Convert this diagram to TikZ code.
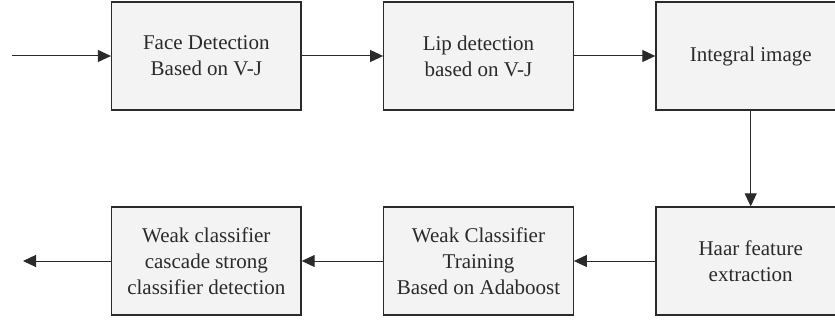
\documentclass[tikz,border=0pt]{standalone}
\usepackage{fontspec}
\setmainfont{Liberation Serif}
\usetikzlibrary{arrows.meta}
\definecolor{boxfill}{HTML}{F2F3F2}
\definecolor{ink}{HTML}{2A2A2A}
\begin{document}
\begin{tikzpicture}[x=1pt,y=-1pt,
  stage/.style={draw=ink, line width=1.3pt, fill=boxfill, minimum width=189.5pt, minimum height=108pt,
    inner sep=0pt, align=center, text=ink, font=\fontsize{21}{26}\selectfont},
  flow/.style={draw=ink, line width=1pt, -{Triangle[length=13pt,width=12pt]}}]
\useasboundingbox (0,0) rectangle (835,321);
\begin{scope}
\clip (0,0) rectangle (835,321);
\node[stage] (b1) at (206.3,56) {Face Detection\\Based on V-J};
\node[stage] (b2) at (478.5,56) {Lip detection\\based on V-J};
\node[stage] (b3) at (750.7,56) {Integral image};
\node[stage] (b4) at (750.7,261) {Haar feature\\extraction};
\node[stage] (b5) at (478.5,261) {Weak Classifier\\Training\\Based on Adaboost};
\node[stage] (b6) at (206.3,261) {Weak classifier\\cascade strong\\classifier detection};
\coordinate (in) at (12,56);
\coordinate (out) at (23,261);
\draw[flow] (in) -- (b1);
\draw[flow] (b1) -- (b2);
\draw[flow] (b2) -- (b3);
\draw[flow] (b3) -- (b4);
\draw[flow] (b4) -- (b5);
\draw[flow] (b5) -- (b6);
\draw[flow] (b6) -- (out);
\end{scope}
\end{tikzpicture}
\end{document}
